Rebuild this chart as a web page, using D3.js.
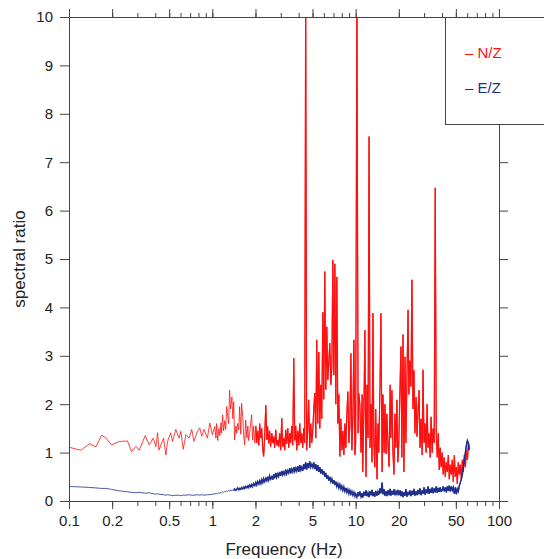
<!DOCTYPE html>
<html>
<head>
<meta charset="utf-8">
<script src="https://cdn.jsdelivr.net/npm/d3@7"></script>
<style>
  body { margin: 0; background: #fff; }
  text { font-family: "Liberation Sans", Arial, Helvetica, sans-serif; }
</style>
</head>
<body>
<div id="area"></div>
<script>
// frequency grid (Hz), shared by both ratios
var freqs = [
  0.100,0.121,0.139,0.154,0.169,0.181,0.198,0.224,0.256,0.273,0.293,0.309,0.340,0.363,0.387,0.404,0.415,0.424,0.457,0.474,
  0.487,0.513,0.527,0.556,0.586,0.603,0.626,0.654,0.688,0.718,0.744,0.787,0.817,0.844,0.875,0.924,0.960,1.00,1.04,
  1.06,1.07,1.09,1.11,1.13,1.15,1.16,1.18,1.20,1.22,1.24,1.26,1.28,1.30,1.32,1.34,1.37,1.39,1.41,1.43,
  1.46,1.48,1.50,1.53,1.55,1.58,1.60,1.63,1.66,1.68,1.71,1.74,1.77,1.79,1.82,1.85,1.88,1.91,1.94,1.98,
  2.01,2.04,2.07,2.11,2.14,2.18,2.21,2.25,2.28,2.32,2.36,2.40,2.43,2.47,2.51,2.55,2.60,2.64,2.68,2.72,
  2.77,2.81,2.86,2.90,2.95,3.00,3.05,3.10,3.15,3.20,3.25,3.30,3.36,3.41,3.47,3.52,3.58,3.64,3.70,3.76,
  3.82,3.88,3.94,4.01,4.07,4.14,4.20,4.27,4.34,4.41,4.48,4.55,4.63,4.70,4.78,4.86,4.94,
  5.02,5.10,5.18,5.27,5.35,5.44,5.53,5.62,5.71,5.80,5.90,5.99,6.09,6.19,6.29,6.39,6.50,6.60,6.71,6.82,
  6.93,7.04,7.16,7.27,7.39,7.51,7.63,7.76,7.88,8.01,8.14,8.27,8.41,8.54,8.68,8.82,8.97,9.11,9.26,9.41,
  9.56,9.72,9.88,
  10.0,10.2,10.4,10.5,10.7,10.9,11.1,11.2,11.4,11.6,11.8,12.0,12.2,12.4,12.6,12.8,13.0,13.2,13.4,13.6,
  13.8,14.1,14.3,14.5,14.8,15.0,15.3,15.5,15.8,16.0,16.3,16.5,16.8,17.1,17.4,17.6,17.9,18.2,18.5,18.8,
  19.1,19.4,19.7,
  20.0,20.4,20.7,21.0,21.4,21.7,22.1,22.4,22.8,23.2,23.5,23.9,24.3,24.7,25.1,25.5,25.9,26.4,26.8,27.2,
  27.7,28.1,28.6,29.1,29.5,30.0,30.5,31.0,31.5,32.0,32.5,33.1,33.6,34.2,34.7,35.3,35.9,36.5,37.1,37.7,
  38.3,38.9,39.5,
  40.2,40.8,41.5,42.2,42.9,43.6,44.3,45.0,45.7,46.5,47.2,48.0,48.8,49.6,50.4,51.2,52.0,52.9,53.7,54.6,
  55.5,56.4,57.3,58.3,59.2,60.2,61.2,62.0
];

// N/Z spectral ratio
var nzRatio = [
  1.11,1.05,1.18,1.12,1.36,1.30,1.16,1.23,1.24,1.02,1.13,1.05,1.35,1.16,1.30,1.12,1.41,1.05,1.30,0.95,
  1.23,1.41,1.23,1.48,1.30,1.44,1.07,1.37,1.30,1.48,1.23,1.44,1.51,1.34,1.48,1.30,1.61,1.37,1.54,
  1.30,1.60,1.25,1.50,1.35,1.62,1.40,1.78,1.45,1.66,1.48,1.95,1.75,1.60,2.29,1.90,2.15,1.70,2.05,1.26,
  1.55,1.40,1.60,1.47,1.95,1.38,2.02,1.74,1.30,1.16,1.67,1.30,1.55,1.25,1.40,1.60,1.78,1.26,1.55,1.20,
  1.55,1.20,1.45,1.15,1.60,1.30,1.50,1.05,0.92,1.35,1.98,1.26,1.54,1.19,1.45,1.12,1.40,1.20,1.33,1.10,
  1.47,1.15,1.26,1.12,1.40,1.05,1.71,1.12,1.30,1.05,1.47,1.18,1.50,1.10,1.40,1.20,1.55,1.15,2.95,1.25,
  1.55,1.05,1.45,1.15,1.60,1.20,1.40,1.10,1.50,1.20,10.6,1.05,1.50,2.09,1.10,1.60,1.20,
  1.45,1.90,2.23,1.30,3.33,1.60,3.08,1.50,2.40,1.70,3.90,2.10,4.74,2.30,3.60,2.50,2.90,3.26,2.40,2.77,
  4.98,2.60,4.90,2.00,4.63,1.60,2.20,0.92,1.70,1.05,1.45,0.95,1.60,1.10,1.80,2.26,1.20,1.55,3.05,1.05,
  1.70,3.33,0.95,
  1.20,10.6,1.40,2.23,2.00,1.00,2.20,0.60,1.80,3.53,0.50,2.40,1.30,7.53,1.10,2.00,0.80,3.88,1.20,0.70,
  1.90,0.45,1.60,1.00,2.50,3.88,0.60,2.20,1.00,2.00,0.97,1.80,1.20,0.71,2.40,1.30,2.29,1.00,0.55,1.80,
  1.10,2.09,0.80,
  1.20,2.40,3.19,0.90,3.44,0.60,2.98,1.20,2.60,3.95,2.20,2.90,2.36,4.57,1.90,2.70,1.40,2.15,1.33,1.80,
  2.29,1.10,1.70,0.95,2.71,1.20,1.60,1.00,2.00,1.10,1.40,0.90,1.74,1.00,1.50,1.20,6.47,1.40,0.90,1.40,
  0.64,1.10,0.70,
  1.00,0.55,0.90,0.50,0.80,0.60,0.95,0.45,0.75,0.55,0.85,0.40,0.95,0.50,0.70,0.35,0.80,0.55,0.75,0.45,
  0.85,0.60,0.95,0.70,1.05,0.85,1.20,1.05
];

// E/Z spectral ratio
var ezRatio = [
  0.30,0.29,0.28,0.27,0.26,0.26,0.24,0.21,0.19,0.18,0.17,0.18,0.16,0.17,0.15,0.14,0.15,0.14,0.13,0.12,
  0.13,0.12,0.11,0.12,0.12,0.11,0.12,0.12,0.13,0.12,0.12,0.13,0.12,0.13,0.12,0.13,0.13,0.14,0.15,
  0.15,0.16,0.15,0.17,0.16,0.18,0.17,0.19,0.18,0.20,0.19,0.21,0.20,0.22,0.20,0.23,0.21,0.23,0.22,0.25,
  0.22,0.24,0.27,0.23,0.26,0.24,0.28,0.25,0.29,0.26,0.30,0.27,0.31,0.28,0.33,0.29,0.34,0.30,0.36,0.32,
  0.38,0.33,0.40,0.35,0.42,0.36,0.44,0.38,0.46,0.40,0.47,0.42,0.50,0.43,0.52,0.45,0.50,0.44,0.55,0.47,
  0.58,0.49,0.56,0.51,0.60,0.52,0.62,0.54,0.60,0.55,0.65,0.56,0.63,0.58,0.68,0.57,0.66,0.60,0.70,0.61,
  0.68,0.62,0.72,0.60,0.74,0.64,0.70,0.62,0.76,0.66,0.80,0.65,0.78,0.68,0.82,0.70,0.76,
  0.70,0.80,0.66,0.76,0.62,0.74,0.60,0.70,0.57,0.66,0.55,0.62,0.50,0.58,0.46,0.53,0.42,0.50,0.40,0.46,
  0.36,0.43,0.33,0.40,0.30,0.36,0.27,0.34,0.25,0.31,0.22,0.29,0.20,0.27,0.18,0.24,0.15,0.22,0.14,0.20,
  0.12,0.18,0.10,
  0.15,0.08,0.18,0.10,0.20,0.09,0.16,0.07,0.19,0.11,0.22,0.10,0.17,0.08,0.20,0.12,0.23,0.10,0.18,0.09,
  0.21,0.11,0.19,0.13,0.26,0.16,0.38,0.14,0.24,0.11,0.20,0.10,0.22,0.12,0.25,0.11,0.21,0.13,0.24,0.12,
  0.20,0.14,0.23,
  0.12,0.22,0.10,0.20,0.08,0.18,0.11,0.24,0.09,0.19,0.12,0.22,0.10,0.21,0.13,0.25,0.11,0.20,0.12,0.23,
  0.14,0.26,0.12,0.22,0.15,0.28,0.13,0.24,0.16,0.30,0.15,0.25,0.17,0.28,0.16,0.26,0.18,0.30,0.17,0.27,
  0.19,0.28,0.20,
  0.22,0.30,0.20,0.28,0.18,0.30,0.21,0.32,0.20,0.30,0.22,0.28,0.15,0.28,0.14,0.25,0.20,0.32,0.38,0.45,
  0.55,0.70,0.85,1.00,1.15,1.25,1.20,1.05
];

var xTickLabels = [0.1, 0.2, 0.5, 1, 2, 5, 10, 20, 50, 100];
var yTickValues = [0, 1, 2, 3, 4, 5, 6, 7, 8, 9, 10];
var seriesNames = ['N/Z', 'E/Z'];
var seriesColors = ['#ff1010', '#1f2f8c'];

var svg_width = 544, svg_height = 559;
var plot_left = 69, plot_right = 499, plot_top = 17, plot_bottom = 501;
var legend_bottom = 124;
var axis_color = '#444', text_color = '#222';

var svg = d3.select('#area').append('svg')
    .attr('width', svg_width).attr('height', svg_height)
    .style('display', 'block')
    .style('background', '#fff');

var x = d3.scaleLog().domain([0.1, 100]).range([plot_left, plot_right]);
var y = d3.scaleLinear().domain([0, 10]).range([plot_bottom, plot_top]);

svg.append('clipPath').attr('id', 'plot-clip')
  .append('rect')
    .attr('x', plot_left).attr('y', plot_top)
    .attr('width', plot_right - plot_left).attr('height', plot_bottom - plot_top);

var line = d3.line()
    .x(function(d) { return x(d[0]); })
    .y(function(d) { return y(d[1]); });

var nzData = freqs.map(function(f, i) { return [f, nzRatio[i]]; });
var ezData = freqs.map(function(f, i) { return [f, ezRatio[i]]; });

// the dense high-frequency part reads heavier in the original, so it gets a second, thicker pass
var plot = svg.append('g').attr('clip-path', 'url(#plot-clip)');
plot.append('path').datum(nzData)
    .attr('d', line).attr('fill', 'none')
    .attr('stroke', seriesColors[0]).attr('stroke-width', 0.8);
plot.append('path').datum(nzData.filter(function(d) { return d[0] >= 2; }))
    .attr('d', line).attr('fill', 'none')
    .attr('stroke', seriesColors[0]).attr('stroke-width', 1.2);
plot.append('path').datum(ezData)
    .attr('d', line).attr('fill', 'none')
    .attr('stroke', seriesColors[1]).attr('stroke-width', 0.8);
plot.append('path').datum(ezData.filter(function(d) { return d[0] >= 1.4; }))
    .attr('d', line).attr('fill', 'none')
    .attr('stroke', seriesColors[1]).attr('stroke-width', 1.5);

function styleAxis(g) {
  g.selectAll('path.domain').attr('stroke', axis_color);
  g.selectAll('line').attr('stroke', axis_color);
  g.selectAll('text').attr('fill', text_color).style('font-size', '15px');
}

// bottom axis: minor then labelled major ticks
svg.append('g').attr('transform', 'translate(0,' + plot_bottom + ')')
  .call(d3.axisBottom(x).tickValues(x.ticks()).tickSize(5).tickSizeOuter(0).tickFormat(''))
  .call(styleAxis);
svg.append('g').attr('transform', 'translate(0,' + plot_bottom + ')')
  .call(d3.axisBottom(x).tickValues(xTickLabels).tickSize(8).tickPadding(6).tickSizeOuter(0)
        .tickFormat(function(d) { return String(d); }))
  .call(styleAxis)
  .call(function(g) { g.select('.domain').remove(); });

// top axis, ticks only
svg.append('g').attr('transform', 'translate(0,' + plot_top + ')')
  .call(d3.axisTop(x).tickValues(x.ticks()).tickSize(4).tickSizeOuter(0).tickFormat(''))
  .call(styleAxis);
svg.append('g').attr('transform', 'translate(0,' + plot_top + ')')
  .call(d3.axisTop(x).tickValues(xTickLabels).tickSize(8).tickSizeOuter(0).tickFormat(''))
  .call(styleAxis)
  .call(function(g) { g.select('.domain').remove(); });

// left axis
svg.append('g').attr('transform', 'translate(' + plot_left + ',0)')
  .call(d3.axisLeft(y).tickValues(yTickValues).tickSize(9).tickPadding(7).tickSizeOuter(0))
  .call(styleAxis);

// legend box sits over the top right corner
var legend = svg.append('g');
legend.append('rect')
    .attr('x', 445.5).attr('y', plot_top + 0.5)
    .attr('width', 140).attr('height', legend_bottom - plot_top)
    .attr('fill', '#fff').attr('stroke', axis_color);

// right axis, only below the legend
svg.append('g').attr('transform', 'translate(' + plot_right + ',0)')
  .call(d3.axisRight(y).tickValues(yTickValues.filter(function(v) { return y(v) > legend_bottom; }))
        .tickSize(9).tickSizeOuter(0).tickFormat(''))
  .call(styleAxis)
  .call(function(g) { g.select('.domain').remove(); });
svg.append('line')
    .attr('x1', plot_right + 0.5).attr('x2', plot_right + 0.5)
    .attr('y1', legend_bottom).attr('y2', plot_bottom)
    .attr('stroke', axis_color);

seriesNames.forEach(function(name, i) {
  legend.append('text')
      .attr('x', 465).attr('y', 58 + i * 35)
      .attr('fill', seriesColors[i])
      .style('font-size', '15px')
      .text('\u2013 ' + name);
});

// axis titles
svg.append('text')
    .attr('x', (plot_left + plot_right) / 2).attr('y', 555)
    .attr('text-anchor', 'middle')
    .attr('fill', text_color)
    .style('font-size', '17px')
    .text('Frequency (Hz)');

svg.append('text')
    .attr('transform', 'translate(25,' + ((plot_top + plot_bottom) / 2) + ') rotate(-90)')
    .attr('text-anchor', 'middle')
    .attr('fill', text_color)
    .style('font-size', '17px')
    .text('spectral ratio');
</script>
</body>
</html>
